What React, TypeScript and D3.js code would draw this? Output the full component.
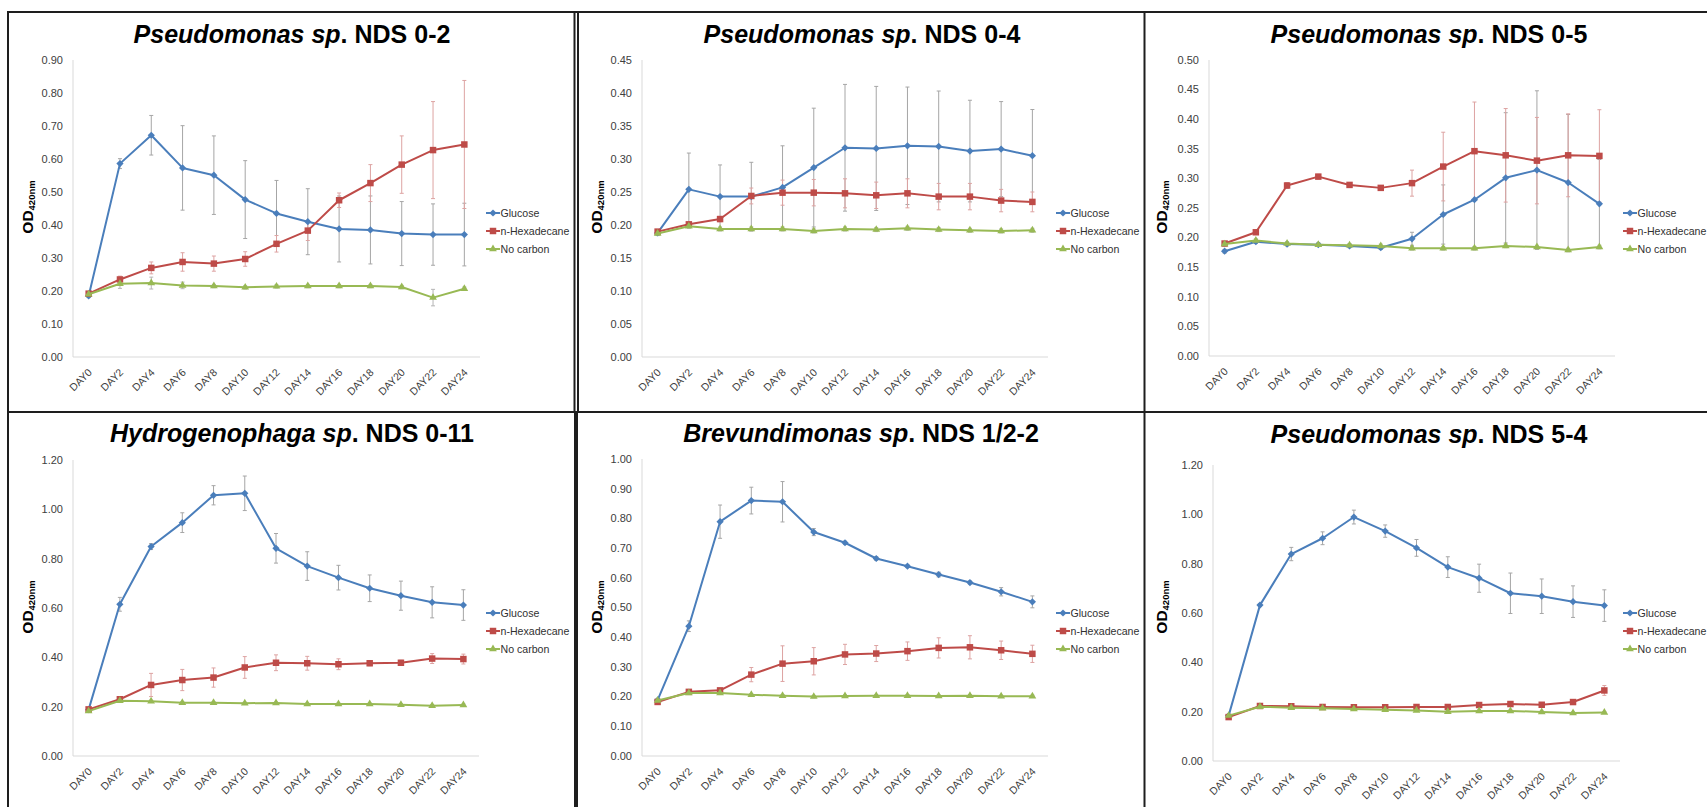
import React from 'react';
import * as d3 from 'd3';

// x categories
const days = ['DAY0', 'DAY2', 'DAY4', 'DAY6', 'DAY8', 'DAY10', 'DAY12', 'DAY14', 'DAY16', 'DAY18', 'DAY20', 'DAY22', 'DAY24'];
const seriesNames = ['Glucose', 'n-Hexadecane', 'No carbon'];

// panel titles (italic part + upright part)
const titleItalic = ['Pseudomonas sp', 'Pseudomonas sp', 'Pseudomonas sp', 'Hydrogenophaga sp', 'Brevundimonas sp', 'Pseudomonas sp'];
const titleRest = ['. NDS 0-2', '. NDS 0-4', '. NDS 0-5', '. NDS 0-11', '. NDS 1/2-2', '. NDS 5-4'];

// y tick labels
const ticks02 = [0, 0.1, 0.2, 0.3, 0.4, 0.5, 0.6, 0.7, 0.8, 0.9];
const ticks04 = [0, 0.05, 0.1, 0.15, 0.2, 0.25, 0.3, 0.35, 0.4, 0.45];
const ticks05 = [0, 0.05, 0.1, 0.15, 0.2, 0.25, 0.3, 0.35, 0.4, 0.45, 0.5];
const ticks011 = [0, 0.2, 0.4, 0.6, 0.8, 1.0, 1.2];
const ticks122 = [0, 0.1, 0.2, 0.3, 0.4, 0.5, 0.6, 0.7, 0.8, 0.9, 1.0];
const ticks54 = [0, 0.2, 0.4, 0.6, 0.8, 1.0, 1.2];

// Pseudomonas sp. NDS 0-2
const nds02Glucose = [0.185, 0.586, 0.672, 0.573, 0.551, 0.477, 0.435, 0.41, 0.388, 0.385, 0.374, 0.371, 0.371];
const nds02GlucoseErr = [0.005, 0.015, 0.06, 0.128, 0.119, 0.118, 0.1, 0.1, 0.1, 0.103, 0.097, 0.093, 0.095];
const nds02Hex = [0.192, 0.235, 0.27, 0.288, 0.283, 0.297, 0.343, 0.383, 0.475, 0.527, 0.583, 0.627, 0.644];
const nds02HexErr = [0.005, 0.01, 0.018, 0.028, 0.023, 0.022, 0.025, 0.03, 0.022, 0.056, 0.087, 0.147, 0.194];
const nds02NoC = [0.19, 0.222, 0.224, 0.217, 0.215, 0.211, 0.214, 0.215, 0.215, 0.215, 0.212, 0.18, 0.207];
const nds02NoCErr = [0.005, 0.014, 0.018, 0.01, 0.005, 0.005, 0.005, 0.005, 0.005, 0.005, 0.005, 0.025, 0.005];

// Pseudomonas sp. NDS 0-4
const nds04Glucose = [0.188, 0.254, 0.243, 0.243, 0.257, 0.287, 0.317, 0.316, 0.32, 0.319, 0.312, 0.315, 0.305];
const nds04GlucoseErr = [0.004, 0.055, 0.048, 0.052, 0.063, 0.09, 0.096, 0.094, 0.089, 0.084, 0.077, 0.072, 0.07];
const nds04Hex = [0.19, 0.201, 0.209, 0.244, 0.249, 0.249, 0.248, 0.245, 0.248, 0.243, 0.243, 0.237, 0.235];
const nds04HexErr = [0.003, 0.003, 0.004, 0.012, 0.019, 0.02, 0.022, 0.02, 0.022, 0.02, 0.02, 0.017, 0.015];
const nds04NoC = [0.187, 0.198, 0.194, 0.194, 0.194, 0.191, 0.194, 0.193, 0.195, 0.193, 0.192, 0.191, 0.192];
const nds04NoCErr = [0.003, 0.003, 0.003, 0.003, 0.003, 0.003, 0.003, 0.003, 0.003, 0.003, 0.003, 0.003, 0.003];

// Pseudomonas sp. NDS 0-5
const nds05Glucose = [0.177, 0.193, 0.189, 0.188, 0.186, 0.183, 0.198, 0.239, 0.264, 0.301, 0.314, 0.293, 0.257];
const nds05GlucoseErr = [0.003, 0.003, 0.003, 0.003, 0.003, 0.003, 0.011, 0.05, 0.08, 0.11, 0.134, 0.115, 0.075];
const nds05Hex = [0.19, 0.209, 0.288, 0.303, 0.289, 0.284, 0.292, 0.32, 0.346, 0.339, 0.33, 0.339, 0.338];
const nds05HexErr = [0.003, 0.003, 0.005, 0.004, 0.003, 0.003, 0.022, 0.058, 0.083, 0.079, 0.073, 0.07, 0.078];
const nds05NoC = [0.189, 0.195, 0.19, 0.188, 0.187, 0.186, 0.182, 0.182, 0.182, 0.186, 0.184, 0.179, 0.184];
const nds05NoCErr = [0.003, 0.003, 0.003, 0.003, 0.003, 0.003, 0.003, 0.003, 0.003, 0.003, 0.003, 0.003, 0.003];

// Hydrogenophaga sp. NDS 0-11
const nds011Glucose = [0.188, 0.615, 0.849, 0.946, 1.057, 1.065, 0.842, 0.77, 0.723, 0.68, 0.65, 0.623, 0.612];
const nds011GlucoseErr = [0.005, 0.028, 0.012, 0.04, 0.039, 0.07, 0.06, 0.058, 0.05, 0.054, 0.059, 0.063, 0.062];
const nds011Hex = [0.189, 0.23, 0.288, 0.308, 0.318, 0.359, 0.378, 0.376, 0.372, 0.376, 0.378, 0.395, 0.393];
const nds011HexErr = [0.003, 0.008, 0.047, 0.043, 0.039, 0.044, 0.032, 0.028, 0.022, 0.01, 0.01, 0.02, 0.02];
const nds011NoC = [0.182, 0.224, 0.222, 0.216, 0.216, 0.214, 0.215, 0.211, 0.211, 0.211, 0.208, 0.204, 0.207];
const nds011NoCErr = [0.004, 0.004, 0.004, 0.004, 0.004, 0.004, 0.004, 0.004, 0.004, 0.004, 0.004, 0.004, 0.004];

// Brevundimonas sp. NDS 1/2-2
const nds122Glucose = [0.188, 0.437, 0.789, 0.86, 0.856, 0.754, 0.718, 0.665, 0.639, 0.611, 0.584, 0.553, 0.519];
const nds122GlucoseErr = [0.004, 0.018, 0.056, 0.045, 0.068, 0.012, 0.005, 0.006, 0.004, 0.008, 0.005, 0.014, 0.02];
const nds122Hex = [0.182, 0.216, 0.221, 0.274, 0.311, 0.319, 0.342, 0.345, 0.353, 0.364, 0.366, 0.356, 0.344];
const nds122HexErr = [0.003, 0.004, 0.004, 0.024, 0.06, 0.046, 0.034, 0.027, 0.031, 0.034, 0.039, 0.031, 0.029];
const nds122NoC = [0.187, 0.212, 0.212, 0.206, 0.203, 0.2, 0.202, 0.203, 0.203, 0.202, 0.203, 0.201, 0.201];
const nds122NoCErr = [0.004, 0.004, 0.004, 0.004, 0.004, 0.004, 0.004, 0.004, 0.004, 0.004, 0.004, 0.004, 0.004];

// Pseudomonas sp. NDS 5-4
const nds54Glucose = [0.184, 0.632, 0.839, 0.903, 0.989, 0.932, 0.864, 0.786, 0.741, 0.68, 0.668, 0.646, 0.63];
const nds54GlucoseErr = [0.004, 0.006, 0.027, 0.026, 0.028, 0.025, 0.034, 0.042, 0.057, 0.082, 0.07, 0.064, 0.064];
const nds54Hex = [0.178, 0.223, 0.222, 0.219, 0.218, 0.218, 0.219, 0.219, 0.227, 0.231, 0.228, 0.239, 0.286];
const nds54HexErr = [0.003, 0.004, 0.004, 0.004, 0.004, 0.004, 0.004, 0.004, 0.004, 0.004, 0.004, 0.004, 0.02];
const nds54NoC = [0.184, 0.22, 0.216, 0.214, 0.211, 0.208, 0.205, 0.2, 0.203, 0.203, 0.199, 0.195, 0.197];
const nds54NoCErr = [0.004, 0.004, 0.004, 0.004, 0.004, 0.004, 0.004, 0.004, 0.004, 0.004, 0.004, 0.004, 0.004];

const panelData = [
  { ticks: ticks02, values: [nds02Glucose, nds02Hex, nds02NoC], errs: [nds02GlucoseErr, nds02HexErr, nds02NoCErr] },
  { ticks: ticks04, values: [nds04Glucose, nds04Hex, nds04NoC], errs: [nds04GlucoseErr, nds04HexErr, nds04NoCErr] },
  { ticks: ticks05, values: [nds05Glucose, nds05Hex, nds05NoC], errs: [nds05GlucoseErr, nds05HexErr, nds05NoCErr] },
  { ticks: ticks011, values: [nds011Glucose, nds011Hex, nds011NoC], errs: [nds011GlucoseErr, nds011HexErr, nds011NoCErr] },
  { ticks: ticks122, values: [nds122Glucose, nds122Hex, nds122NoC], errs: [nds122GlucoseErr, nds122HexErr, nds122NoCErr] },
  { ticks: ticks54, values: [nds54Glucose, nds54Hex, nds54NoC], errs: [nds54GlucoseErr, nds54HexErr, nds54NoCErr] },
];

// where each panel sits on the page
const layout = [
  { left: 73, right: 480, top: 60, bottom: 357, titleX: 292, titleY: 43, legendX: 486, legendY: 213, labelX: 32.5, labelY: 207 },
  { left: 642, right: 1048, top: 60, bottom: 357, titleX: 862, titleY: 43, legendX: 1056, legendY: 213, labelX: 602, labelY: 207 },
  { left: 1209, right: 1615, top: 60, bottom: 356, titleX: 1429, titleY: 43, legendX: 1623, legendY: 213, labelX: 1167, labelY: 207 },
  { left: 73, right: 479, top: 460, bottom: 756, titleX: 292, titleY: 442, legendX: 486, legendY: 613, labelX: 32.5, labelY: 607 },
  { left: 642, right: 1048, top: 459, bottom: 756, titleX: 861, titleY: 442, legendX: 1056, legendY: 613, labelX: 602, labelY: 607 },
  { left: 1213, right: 1620, top: 465, bottom: 761, titleX: 1429, titleY: 443, legendX: 1623, legendY: 613, labelX: 1167, labelY: 607 },
];

const colors = ['#4a7ebb', '#be4b48', '#98b954'];
const errColors = ['#a6a6a6', '#dda3a2', '#b5b5b5'];
const FONT = '"Liberation Sans", Arial, sans-serif';

const markerPath = [
  d3.symbol(d3.symbolSquare, 26)(),
  d3.symbol(d3.symbolSquare, 42)(),
  d3.symbol(d3.symbolTriangle, 26)(),
];
const markerRotate = [45, 0, 0];

function Marker({ i, x, y }: { i: number; x: number; y: number }) {
  return (
    <path
      d={markerPath[i] as string}
      transform={`translate(${x},${y}) rotate(${markerRotate[i]})`}
      fill={colors[i]}
    />
  );
}

function Panel({ idx }: { idx: number }) {
  const L = layout[idx];
  const D = panelData[idx];
  const x = d3.scalePoint<string>().domain(days).range([L.left, L.right]).padding(0.5);
  const yMax = D.ticks[D.ticks.length - 1];
  const y = d3.scaleLinear().domain([0, yMax]).range([L.bottom, L.top]);
  const fmt = d3.format('.2f');
  const line = d3
    .line<number>()
    .x((_, i) => x(days[i]) as number)
    .y((d) => y(d));

  return (
    <g>
      {/* title */}
      <text x={L.titleX} y={L.titleY} textAnchor="middle" fontFamily={FONT} fontWeight="bold" fontSize={25} fill="#000">
        <tspan fontStyle="italic">{titleItalic[idx]}</tspan>
        <tspan>{titleRest[idx]}</tspan>
      </text>

      {/* axes */}
      <line x1={L.left} x2={L.left} y1={L.top} y2={L.bottom} stroke="#d9d9d9" strokeWidth={1} />
      <line x1={L.left} x2={L.right} y1={L.bottom} y2={L.bottom} stroke="#d9d9d9" strokeWidth={1} />
      {D.ticks.map((t) => (
        <text key={t} x={L.left - 10} y={y(t)} dy="0.35em" textAnchor="end" fontFamily={FONT} fontSize={11} fill="#404040">
          {fmt(t)}
        </text>
      ))}
      {days.map((d) => (
        <text
          key={d}
          transform={`translate(${(x(d) as number) + 4},${L.bottom + 16}) rotate(-45)`}
          textAnchor="end"
          fontFamily={FONT}
          fontSize={10.5}
          fill="#404040"
        >
          {d}
        </text>
      ))}

      {/* y label */}
      <text
        transform={`translate(${L.labelX},${L.labelY}) rotate(-90)`}
        textAnchor="middle"
        fontFamily={FONT}
        fontWeight="bold"
        fill="#000"
      >
        <tspan fontSize={15.5}>OD</tspan>
        <tspan fontSize={9.5} dy={2}>420nm</tspan>
      </text>

      {/* error bars */}
      {D.values.map((vals, s) => (
        <g key={'e' + s} stroke={errColors[s]} strokeWidth={1}>
          {vals.map((v, i) => {
            const cx = x(days[i]) as number;
            const e = D.errs[s][i];
            const y1 = y(v + e);
            const y2 = y(v - e);
            return (
              <g key={i}>
                <line x1={cx} x2={cx} y1={y1} y2={y2} />
                <line x1={cx - 2} x2={cx + 2} y1={y1} y2={y1} />
                <line x1={cx - 2} x2={cx + 2} y1={y2} y2={y2} />
              </g>
            );
          })}
        </g>
      ))}

      {/* series */}
      {D.values.map((vals, s) => (
        <g key={'s' + s}>
          <path d={line(vals) as string} fill="none" stroke={colors[s]} strokeWidth={2} strokeLinejoin="round" />
          {vals.map((v, i) => (
            <Marker key={i} i={s} x={x(days[i]) as number} y={y(v)} />
          ))}
        </g>
      ))}

      {/* legend */}
      {seriesNames.map((n, s) => {
        const ly = L.legendY + s * 18;
        return (
          <g key={n}>
            <line x1={L.legendX} x2={L.legendX + 14} y1={ly} y2={ly} stroke={colors[s]} strokeWidth={2} />
            <Marker i={s} x={L.legendX + 7} y={ly} />
            <text x={L.legendX + 14.5} y={ly} dy="0.35em" fontFamily={FONT} fontSize={10.6} fill="#303030">
              {n}
            </text>
          </g>
        );
      })}
    </g>
  );
}

export default function App() {
  const W = 1707;
  const H = 807;
  return (
    <svg
      width={W}
      height={H}
      style={{ position: 'absolute', left: 0, top: 0, display: 'block', background: '#fff' }}
    >
      <rect width={W} height={H} fill="#fff" />
      {/* panel frames */}
      <g stroke="#1e1e1e" strokeWidth={2} fill="none">
        <line x1={8} x2={W} y1={12} y2={12} />
        <line x1={8} x2={W} y1={412} y2={412} />
        <line x1={8} x2={8} y1={11} y2={H} />
        <line x1={574.5} x2={574.5} y1={12} y2={412} />
        <line x1={578} x2={578} y1={12} y2={412} />
        <line x1={576} x2={576} y1={412} y2={H} strokeWidth={4} />
        <line x1={1144.5} x2={1144.5} y1={12} y2={H} />
      </g>
      {layout.map((_, i) => (
        <Panel key={i} idx={i} />
      ))}
    </svg>
  );
}
